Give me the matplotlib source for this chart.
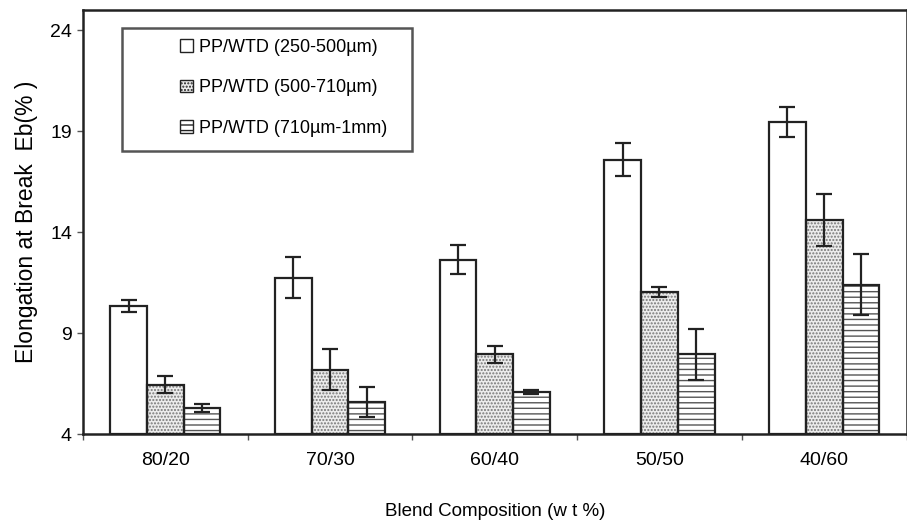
import numpy as np
import matplotlib
matplotlib.use('Agg')
import matplotlib.pyplot as plt
from matplotlib.patches import Rectangle

plt.rcParams['font.family'] = ['Liberation Sans', 'DejaVu Sans']
plt.rcParams['hatch.linewidth'] = 1.0

categories = ['80/20', '70/30', '60/40', '50/50', '40/60']
series = ['PP/WTD (250-500µm)', 'PP/WTD (500-710µm)', 'PP/WTD (710µm-1mm)']
fine = [10.35, 11.75, 12.65, 17.6, 19.45]
fine_err = [0.3, 1.0, 0.7, 0.8, 0.75]
medium = [6.45, 7.2, 7.95, 11.05, 14.6]
medium_err = [0.42, 1.0, 0.4, 0.25, 1.3]
coarse = [5.3, 5.6, 6.1, 7.95, 11.4]
coarse_err = [0.2, 0.75, 0.1, 1.25, 1.5]

fig = plt.figure(figsize=(9.07, 5.27), dpi=100)
ax = fig.add_axes([0.0915, 0.176, 0.908, 0.805])

x = np.arange(len(categories))
w = 0.223
styles = [dict(facecolor='white', hatch=None),
          dict(facecolor='#ececec', hatch='.....', edgecolor='#777777'),
          dict(facecolor='white', hatch='---', edgecolor='#555555')]
data = [(fine, fine_err), (medium, medium_err), (coarse, coarse_err)]

handles = []
for i, ((vals, errs), st) in enumerate(zip(data, styles)):
    pos = x + (i - 1) * w
    b = ax.bar(pos, np.array(vals) - 4, w, bottom=4, facecolor=st['facecolor'],
               hatch=st['hatch'], edgecolor=st.get('edgecolor', 'black'),
               linewidth=0, label=series[i], zorder=2)
    # black outline drawn separately so hatch colour can differ
    ax.bar(pos, np.array(vals) - 4, w, bottom=4, fill=False,
           edgecolor='#222222', linewidth=1.6, zorder=3)
    ax.errorbar(pos, vals, yerr=errs, fmt='none', ecolor='#222222',
                elinewidth=1.6, capsize=6, capthick=1.6, zorder=4)
    handles.append(b)

ax.set_xlim(-0.5, len(categories) - 0.5)
ax.set_ylim(4, 25)
ax.set_yticks([4, 9, 14, 19, 24])
ax.set_xticks(x)
ax.set_xticklabels(categories)
ax.set_xticks(np.arange(len(categories) + 1) - 0.5, minor=True)
ax.tick_params(axis='x', which='major', length=0, pad=13, labelsize=14)
ax.tick_params(axis='x', which='minor', length=4, width=1, color='#555555', direction='out')
ax.tick_params(axis='y', length=4, width=1, color='#555555', labelsize=14, pad=4)

for s in ax.spines.values():
    s.set_linewidth(1.8)
    s.set_color('#222222')

ax.set_ylabel('Elongation at Break  Eb(% )', fontsize=16.5, labelpad=9)
ax.set_xlabel('Blend Composition (w t %)', fontsize=13.5, labelpad=24)

# legend box (frame drawn separately, entries placed inside)
box = Rectangle((0.047, 0.667), 0.353, 0.29, transform=ax.transAxes, fill=True,
                facecolor='white', edgecolor='#555555', linewidth=1.8, zorder=5)
ax.add_patch(box)
leg = ax.legend(handles=handles, loc='center', bbox_to_anchor=(0.047 + 0.353 / 2 + 0.02, 0.667 + 0.15),
                fontsize=13, frameon=False, handlelength=0.7,
                handleheight=0.7, handletextpad=0.35, labelspacing=1.3,
                borderpad=0, borderaxespad=0)
leg.set_zorder(6)
for h in leg.legend_handles:
    h.set_edgecolor('#222222')
    h.set_linewidth(1.0)

fig.savefig('out.png', dpi=100)
